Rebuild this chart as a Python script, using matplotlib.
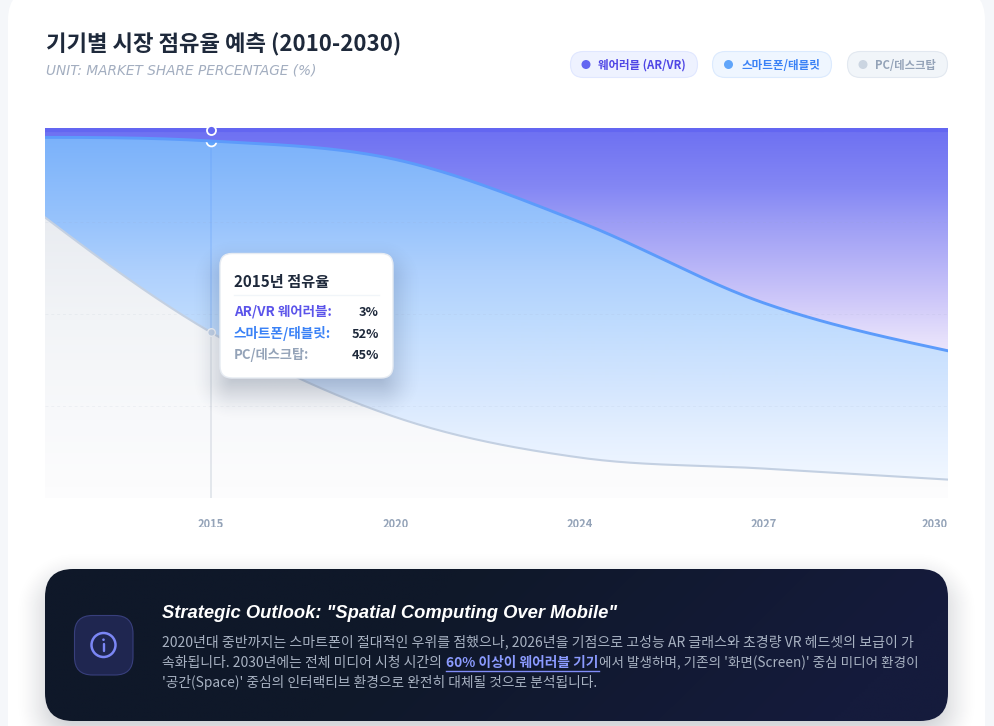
import numpy as np
import matplotlib
matplotlib.use("Agg")
import matplotlib.pyplot as plt
from matplotlib.patches import FancyBboxPatch, Circle
from matplotlib.colors import to_rgb
from matplotlib.transforms import Bbox

plt.rcParams['font.family'] = ['Noto Sans CJK KR', 'DejaVu Sans']

# ---- data ----
years = ['2010', '2015', '2020', '2024', '2027', '2030']
wearable = [2, 3, 8, 25, 47, 60]
smartphone = [18, 52, 70, 64, 45, 35]
desktop = [80, 45, 22, 11, 8, 5]
series_names = ['웨어러블 (AR/VR)', '스마트폰/태블릿', 'PC/데스크탑']
tooltip_names = ['AR/VR 웨어러블:', '스마트폰/태블릿:', 'PC/데스크탑:']
hover_index = 1

W, H = 995, 726
fig = plt.figure(figsize=(W / 100, H / 100), dpi=100, facecolor='#f5f7fa')
renderer = fig.canvas.get_renderer()

def overlay(z):
    a = fig.add_axes([0, 0, 1, 1], zorder=z)
    a.set_xlim(0, W); a.set_ylim(H, 0); a.axis('off')
    return a

bg = overlay(0)
top = overlay(5)

def rrect(a, x0, y0, x1, y1, r, fc, ec='none', lw=0, z=1):
    p = FancyBboxPatch((x0, y0), x1 - x0, y1 - y0, boxstyle=f'round,pad=0,rounding_size={r}',
                       fc=fc, ec=ec, lw=lw, zorder=z)
    a.add_patch(p)
    return p

def shadow(a, x0, y0, x1, y1, r, blur, dy, color, alpha, z):
    m = blur * 2
    xs = np.arange(x0 - m, x1 + m + 1)
    ys = np.arange(y0 + dy - m, y1 + dy + m + 1)
    xx, yy = np.meshgrid(xs, ys)
    cx, cy = (x0 + x1) / 2, (y0 + y1) / 2 + dy
    qx = np.abs(xx - cx) - (x1 - x0) / 2 + r
    qy = np.abs(yy - cy) - (y1 - y0) / 2 + r
    d = np.hypot(np.maximum(qx, 0), np.maximum(qy, 0)) + np.minimum(np.maximum(qx, qy), 0) - r
    t = np.clip((d + blur) / (2 * blur), 0, 1)
    al = alpha * (1 - t * t * (3 - 2 * t))
    img = np.zeros(al.shape + (4,))
    img[..., :3] = to_rgb(color)
    img[..., 3] = al
    a.imshow(img, extent=(xs[0], xs[-1], ys[-1], ys[0]), aspect='auto', zorder=z, interpolation='bilinear')
    a.set_xlim(0, W); a.set_ylim(H, 0)

def txt(a, x, y, s, width=None, size=10, color='k', ha='left', z=10, **kw):
    t = a.text(x, y, s, fontsize=size, color=color, ha=ha, va='baseline', zorder=z, **kw)
    if width is not None:
        w = t.get_window_extent(renderer).width
        t.set_fontsize(size * width / w)
    return t

# card
rrect(bg, 8, -12, 985, 780, 32, 'white')

# ---- chart ----
PX_L, PX_R, PX_T, PX_B = 45, 948, 128, 498
ax = fig.add_axes([PX_L / W, 1 - PX_B / H, (PX_R - PX_L) / W, (PX_B - PX_T) / H], zorder=1)
ax.patch.set_alpha(0)
for sp in ax.spines.values():
    sp.set_visible(False)
x_pos = np.arange(len(years), dtype=float)
ax.set_xlim(0.099, 5)
ax.set_ylim(0, 100.54)

def smooth(x, y, per=40):
    x = np.asarray(x, float); y = np.asarray(y, float)
    h = np.diff(x); dl = np.diff(y) / h
    m = np.zeros_like(y)
    m[1:-1] = (dl[:-1] + dl[1:]) / 2
    m[0] = 1.5 * dl[0] - 0.5 * m[1]
    m[-1] = 1.5 * dl[-1] - 0.5 * m[-2]
    xo, yo = [], []
    for i in range(len(h)):
        t = np.linspace(0, 1, per, endpoint=False)
        xo.append(x[i] + t * h[i])
        yo.append((2*t**3-3*t**2+1)*y[i] + (t**3-2*t**2+t)*h[i]*m[i]
                  + (-2*t**3+3*t**2)*y[i+1] + (t**3-t**2)*h[i]*m[i+1])
    return np.r_[np.concatenate(xo), x[-1]], np.r_[np.concatenate(yo), y[-1]]

c_pc = np.array(desktop, float)
c_sm = c_pc + np.array(smartphone, float)
c_we = c_sm + np.array(wearable, float)
xs, pc_line = smooth(x_pos, c_pc)
_, sm_line = smooth(x_pos, c_sm)
_, we_line = smooth(x_pos, c_we)

def grad_fill(lo, hi, stops, z):
    poly = ax.fill_between(xs, lo, hi, color='none', lw=0, zorder=z)
    yy = np.arange(PX_T, PX_B + 1)
    sy = [s[0] for s in stops]
    cols = np.array([to_rgb(s[1]) for s in stops])
    arr = np.stack([np.interp(yy, sy, cols[:, k]) for k in range(3)], axis=1)[:, None, :]
    im = ax.imshow(arr, extent=(0, 1, 0, 1), transform=ax.transAxes, aspect='auto', zorder=z,
                   interpolation='bilinear')
    im.set_clip_path(poly.get_paths()[0], transform=ax.transData)
    ax.set_xlim(0.099, 5); ax.set_ylim(0, 100.54)

hx = x_pos[hover_index]
grad_fill(0 * pc_line, pc_line,
          [(218, '#e9ecf1'), (320, '#f2f4f7'), (420, '#f8f9fb'), (487, '#fcfcfd'), (498, '#fdfdfe')], 1)
ax.vlines(hx, 0, c_pc[hover_index], color='#dfe3e9', lw=1.2, zorder=1.05)
grad_fill(pc_line, sm_line,
          [(138, '#7bb2fa'), (220, '#97c3fc'), (270, '#aed0fd'), (320, '#bedbfe'), (387, '#d4e6fe'),
           (437, '#e5f0ff'), (473, '#eff6ff'), (498, '#f5f9ff')], 1.2)
ax.vlines(hx, c_pc[hover_index], c_sm[hover_index], color='#5c9bfb', alpha=0.28, lw=1.2, zorder=1.3)
ax.scatter([hx], [c_sm[hover_index]], s=50, c='#60a5fa', edgecolors='white',
           linewidths=1.3, zorder=1.5, clip_on=False)
grad_fill(sm_line, we_line,
          [(133, '#6f72f2'), (187, '#8487f4'), (220, '#9b9cf5'), (263, '#b6b3f7'), (297, '#ccc6f9'),
           (337, '#e5dffb'), (355, '#ece6fc')], 2)

ax.set_xticks(x_pos[1:])
ax.set_xticklabels(years[1:], fontsize=8, color='#94a3b8', fontweight='bold')
ax.set_yticks([0, 25, 50, 75, 100])
ax.set_yticklabels([])
ax.tick_params(axis='both', length=0)
ax.tick_params(axis='x', pad=14.5)
ax.set_axisbelow(False)
ax.grid(axis='y', color='#94a3b8', alpha=0.1, lw=0.7, ls=(0, (3, 3)))
clip = Bbox([[0, H - 526.5], [W, H]])
for lab in ax.get_xticklabels():
    lab.set_clip_on(True)
    lab.set_clip_box(clip)
ax.get_xticklabels()[-1].set_ha('right')

ax.plot(xs, pc_line, color='#c3d0e2', lw=1.5, zorder=3)
ax.plot(xs, sm_line, color='#5c9bfb', lw=2.1, zorder=3.1)
ax.plot(xs, we_line, color='#6366f1', lw=2.9, zorder=3.2, solid_capstyle='butt')
ax.scatter([hx], [c_pc[hover_index]], s=30, c='#c4d3e8', edgecolors='#f4f6fa',
           linewidths=1.0, zorder=3.5, clip_on=False)
ax.scatter([hx], [c_we[hover_index]], s=42, c='#6366f1', edgecolors='white',
           linewidths=1.3, zorder=4, clip_on=False)

# ---- header ----
txt(top, 46, 51.5, '기기별 시장 점유율 예측 (2010-2030)', width=356, size=16, color='#1e293b', fontweight='bold')
txt(top, 46, 74, 'UNIT: MARKET SHARE PERCENTAGE (%)', width=269, size=9, color='#a3aec0',
    family=['DejaVu Sans'], style='italic')

# ---- legend pills ----
pills = [(570, 698, '#eef2ff', '#e0e7ff', 586, '#6366f1', 598, 88, '#4f46e5'),
         (712, 832, '#eff6ff', '#dbeafe', 728.5, '#60a5fa', 741, 79, '#3b82f6'),
         (847, 948, '#f1f5f9', '#e2e8f0', 863, '#cbd5e1', 875, 61, '#94a3b8')]
for name, (x0, x1, fc, ec, dx, dc, tx, tw, tc) in zip(series_names, pills):
    rrect(top, x0 + .5, 51.5, x1 - .5, 77.5, 13, fc, ec, 0.8)
    top.add_patch(Circle((dx, 64.5), 4.5, fc=dc, ec='none', zorder=3))
    txt(top, tx, 68.7, name, width=tw, size=8, color=tc, fontweight='bold')

# ---- tooltip ----
shadow(top, 220, 253, 393, 378, 12, 30, 14, '#1e3050', 0.30, 2)
rrect(top, 220, 253.5, 393, 378, 12, 'white', '#e6ebf2', 1, z=3)
txt(top, 234, 287, f'{years[hover_index]}년 점유율', width=95, size=10, color='#1e293b', fontweight='bold')
top.plot([234, 379], [294.5, 294.5], color='#f1f5f9', lw=1, zorder=4)
rows = [(316, 98, '#5b54ea', wearable), (337.7, 97, '#3b82f6', smartphone), (359, 75, '#94a3b8', desktop)]
for lab, (by, tw, col, vals) in zip(tooltip_names, rows):
    txt(top, 234, by, lab, width=tw, size=9, color=col, fontweight='bold')
    txt(top, 379, by, f'{vals[hover_index]}%', size=9.2, color='#1e293b', ha='right', fontweight='bold')

# ---- insight panel ----
shadow(top, 45, 569, 948, 721, 28, 32, 12, '#0f172a', 0.24, 1)
panel = rrect(top, 45, 569, 948, 721, 28, 'none', z=2)
gx = np.linspace(0, 1, 300); gy = np.linspace(0, 1, 60)
mx, my = np.meshgrid(gx, gy)
tg = np.clip((mx * 903 + my * 152 - 420) / 520, 0, 1)[..., None]
img = np.array(to_rgb('#0f1829')) * (1 - tg) + np.array(to_rgb('#151b3c')) * tg
im = top.imshow(img, extent=(45, 948, 721, 569), aspect='auto', zorder=2, interpolation='bilinear')
im.set_clip_path(panel)
top.set_xlim(0, W); top.set_ylim(H, 0)

rrect(top, 74.5, 615.5, 133, 675, 18, '#1f2650', '#383f7c', 0.8, z=3)
top.add_patch(Circle((103.5, 645), 12, fc='none', ec='#7b86f5', lw=1.8, zorder=4))
top.plot([103.5, 103.5], [644, 651], color='#7b86f5', lw=1.7, zorder=4, solid_capstyle='round')
top.add_patch(Circle((103.5, 639.7), 1.3, fc='#7b86f5', ec='none', zorder=4))

txt(top, 162.5, 618, 'Strategic Outlook: "Spatial Computing Over Mobile"', width=452, size=12, color='white',
    family=['Liberation Sans'], fontweight='bold', style='italic')
BODY = '#a8b2c2'
txt(top, 162, 646, '2020년대 중반까지는 스마트폰이 절대적인 우위를 점했으나, 2026년을 기점으로 고성능 AR 글래스와 초경량 VR 헤드셋의 보급이 가',
    width=749, size=9, color=BODY)
txt(top, 162, 666.7, '속화됩니다. 2030년에는 전체 미디어 시청 시간의', width=280, size=9, color=BODY)
txt(top, 446.5, 666.7, '60% 이상이 웨어러블 기기', width=152, size=9, color='#8b9bff', fontweight='bold')
top.plot([446, 599], [670.5, 670.5], color='#818cf8', lw=1, zorder=6)
txt(top, 599, 666.7, "에서 발생하며, 기존의 '화면(Screen)' 중심 미디어 환경이", width=319, size=9, color=BODY)
txt(top, 162, 687, "'공간(Space)' 중심의 인터랙티브 환경으로 완전히 대체될 것으로 분석됩니다.", width=434, size=9, color=BODY)

fig.savefig('out.png', dpi=100, facecolor=fig.get_facecolor())
